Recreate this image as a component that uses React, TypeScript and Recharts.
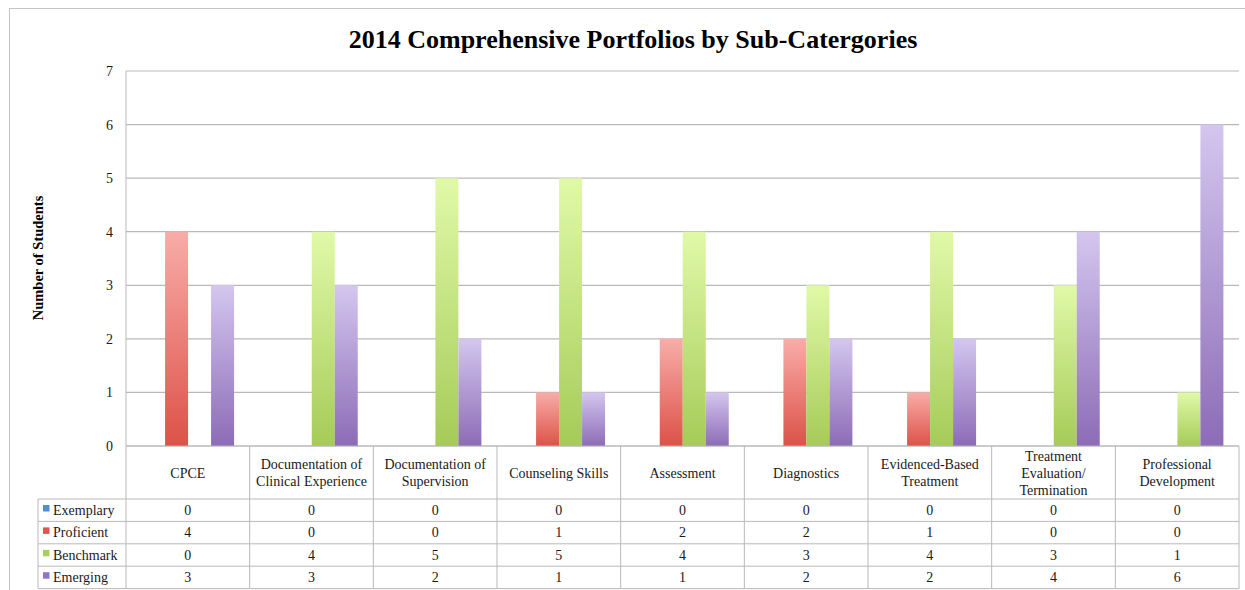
import { BarChart, Bar, XAxis, YAxis, CartesianGrid } from "recharts";

const categories = [
  "CPCE",
  "Documentation of Clinical Experience",
  "Documentation of Supervision",
  "Counseling Skills",
  "Assessment",
  "Diagnostics",
  "Evidenced-Based Treatment",
  "Treatment Evaluation/ Termination",
  "Professional Development",
];
// how the header cells wrap their names
const categoryLines = [
  ["CPCE"],
  ["Documentation of", "Clinical Experience"],
  ["Documentation of", "Supervision"],
  ["Counseling Skills"],
  ["Assessment"],
  ["Diagnostics"],
  ["Evidenced-Based", "Treatment"],
  ["Treatment", "Evaluation/", "Termination"],
  ["Professional", "Development"],
];

const exemplary = [0, 0, 0, 0, 0, 0, 0, 0, 0];
const proficient = [4, 0, 0, 1, 2, 2, 1, 0, 0];
const benchmark = [0, 4, 5, 5, 4, 3, 4, 3, 1];
const emerging = [3, 3, 2, 1, 1, 2, 2, 4, 6];

const yTicks = [0, 1, 2, 3, 4, 5, 6, 7];

const series = [
  { key: "exemplary", name: "Exemplary", values: exemplary, top: "#a9c7ef", bottom: "#4f81bd", swatch: "#4f8fd8" },
  { key: "proficient", name: "Proficient", values: proficient, top: "#f9aca8", bottom: "#dc5248", swatch: "#e0564c" },
  { key: "benchmark", name: "Benchmark", values: benchmark, top: "#e0f9a8", bottom: "#a6cb58", swatch: "#a9d05c" },
  { key: "emerging", name: "Emerging", values: emerging, top: "#d4c6ef", bottom: "#8c6cb6", swatch: "#9276bd" },
];

const data = categories.map((c, i) => {
  const row: Record<string, string | number> = { name: c, idx: i };
  series.forEach((s) => (row[s.key] = s.values[i]));
  return row;
});

const W = 1245;
const H = 590;
const FONT = "'Liberation Serif', 'Times New Roman', serif";
const PLOT_LEFT = 126;
const PLOT_RIGHT = 1239;
const PLOT_TOP = 71;
const PLOT_BOTTOM = 446;
const BAND = (PLOT_RIGHT - PLOT_LEFT) / categories.length;
const HEADER_H = 53;
const ROW_H = 22.4;
const LEGEND_W = 88;
const LINE = "#b9b9b9";
const TEXT = "#1a1a1a";

function TableTick(props: any) {
  const { x, y, payload } = props;
  const i = payload.index;
  const left = x - BAND / 2;
  const right = x + BAND / 2;
  const lines = categoryLines[i];
  const bottom = y + HEADER_H + ROW_H * series.length;
  const firstLine = y + HEADER_H / 2 - ((lines.length - 1) * 17) / 2 + 5;
  return (
    <g fontFamily={FONT} fontSize={14} fill={TEXT}>
      {i === 0 && <line x1={left} x2={left} y1={y} y2={bottom} stroke={LINE} />}
      <line x1={right} x2={right} y1={y} y2={bottom} stroke={LINE} />
      {lines.map((l, k) => (
        <text key={k} x={x} y={firstLine + k * 17} textAnchor="middle">
          {l}
        </text>
      ))}
      {series.map((s, r) => {
        const top = y + HEADER_H + r * ROW_H;
        return (
          <g key={s.key}>
            <line x1={i === 0 ? left - LEGEND_W : left} x2={right} y1={top} y2={top} stroke={LINE} />
            {r === series.length - 1 && (
              <line x1={i === 0 ? left - LEGEND_W : left} x2={right} y1={top + ROW_H} y2={top + ROW_H} stroke={LINE} />
            )}
            <text x={x} y={top + 16} textAnchor="middle">
              {s.values[i]}
            </text>
            {i === 0 && (
              <g>
                <line x1={left - LEGEND_W} x2={left - LEGEND_W} y1={top} y2={top + ROW_H} stroke={LINE} />
                <rect x={left - LEGEND_W + 5} y={top + 6} width={6.5} height={6.5} fill={s.swatch} />
                <text x={left - LEGEND_W + 15} y={top + 16} textAnchor="start">
                  {s.name}
                </text>
              </g>
            )}
          </g>
        );
      })}
    </g>
  );
}

export default function App() {
  return (
    <div style={{ position: "absolute", left: 0, top: 0, width: W, height: H, overflow: "hidden", background: "#fff" }}>
      <BarChart
        width={W}
        height={H}
        data={data}
        margin={{ top: PLOT_TOP, right: W - PLOT_RIGHT, left: 16, bottom: 0 }}
        barCategoryGap="13%"
        barGap={0}
      >
        <defs>
          {series.map((s) => (
            <linearGradient key={s.key} id={`grad-${s.key}`} x1="0" y1="0" x2="0" y2="1">
              <stop offset="0%" stopColor={s.top} />
              <stop offset="100%" stopColor={s.bottom} />
            </linearGradient>
          ))}
        </defs>
        <CartesianGrid vertical={false} stroke={LINE} strokeWidth={1.2} />
        <XAxis
          dataKey="name"
          interval={0}
          height={H - PLOT_BOTTOM}
          tickSize={0}
          tickMargin={0}
          axisLine={{ stroke: LINE }}
          tickLine={false}
          tick={<TableTick />}
        />
        <YAxis
          width={PLOT_LEFT - 16}
          domain={[0, 7]}
          ticks={yTicks}
          interval={0}
          tickSize={0}
          tickMargin={13}
          axisLine={{ stroke: LINE }}
          tickLine={false}
          tick={{ fontFamily: FONT, fontSize: 14, fill: TEXT }}
        />
        {series.map((s) => (
          <Bar key={s.key} dataKey={s.key} name={s.name} fill={`url(#grad-${s.key})`} isAnimationActive={false} />
        ))}
      </BarChart>
      <svg width={W} height={H} style={{ position: "absolute", left: 0, top: 0, pointerEvents: "none" }}>
        <rect x={9.5} y={8.5} width={1245} height={600} fill="none" stroke="#c4c4c4" />
        <text x={633} y={48} textAnchor="middle" fontFamily={FONT} fontWeight="bold" fontSize={26} fill="#000">
          2014 Comprehensive Portfolios by Sub-Catergories
        </text>
        <text
          x={0}
          y={0}
          transform={`translate(43, 258) rotate(-90)`}
          textAnchor="middle"
          fontFamily={FONT}
          fontWeight="bold"
          fontSize={14.5}
          fill="#000"
        >
          Number of Students
        </text>
      </svg>
    </div>
  );
}
